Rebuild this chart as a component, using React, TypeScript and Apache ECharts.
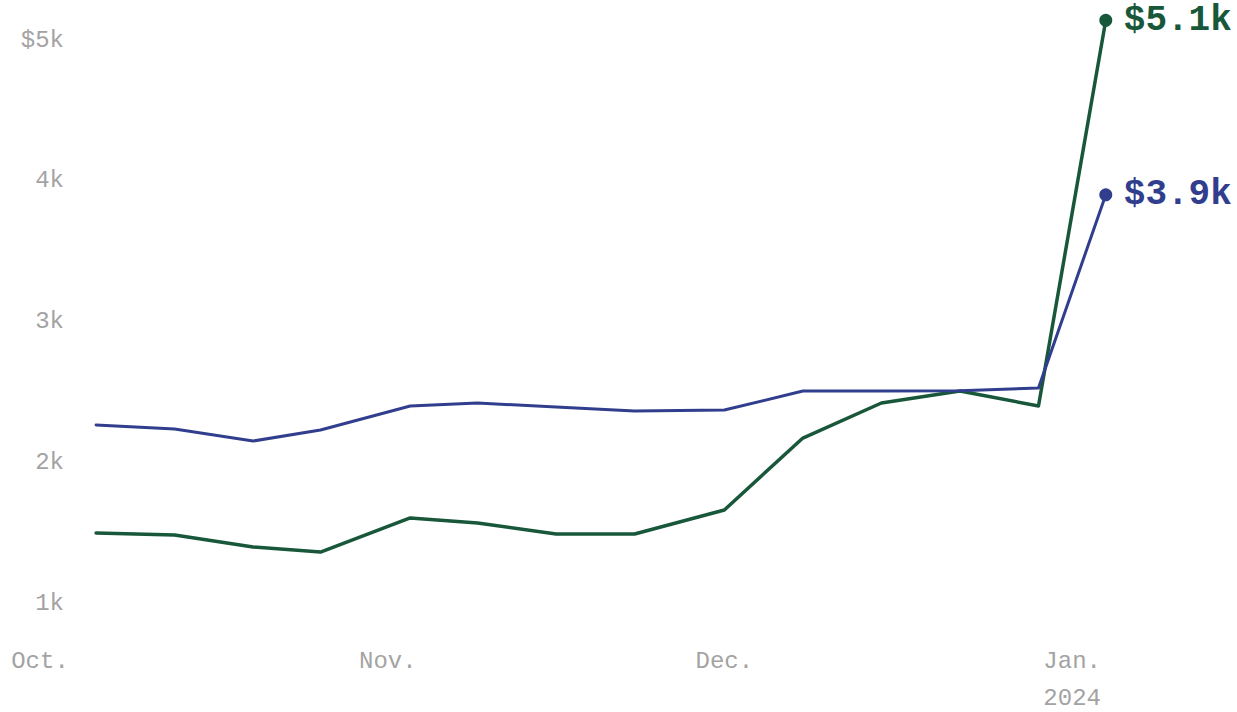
import React, { useEffect, useRef } from "react";
import * as echarts from "echarts";

// Weekly balance readings
const dates = [
  "2023-10-06", "2023-10-13", "2023-10-20", "2023-10-26", "2023-11-03",
  "2023-11-09", "2023-11-16", "2023-11-23", "2023-12-01", "2023-12-08",
  "2023-12-15", "2023-12-22", "2023-12-29", "2024-01-04",
];
const greenValues = [1497, 1483, 1398, 1362, 1604, 1568, 1490, 1490, 1661, 2172, 2421, 2506, 2400, 5140];
const blueValues = [2265, 2236, 2151, 2229, 2400, 2421, 2392, 2364, 2371, 2506, 2506, 2508, 2528, 3900];

// Axis ticks
const monthTicks = ["2023-10-01", "2023-11-01", "2023-12-01", "2024-01-01"];
const monthLabels = ["Oct.", "Nov.", "Dec.", "Jan.\n2024"];
const yTicks = [1000, 2000, 3000, 4000, 5000];
const yTickLabels = ["1k", "2k", "3k", "4k", "$5k"];

const GREEN = "#18573a";
const BLUE = "#313e8e";
const GREY = "#a3a3a3";
const MONO = "'Liberation Mono', 'DejaVu Sans Mono', monospace";

const toTs = (d: string) => {
  const [y, m, day] = d.split("-").map(Number);
  return new Date(y, m - 1, day).getTime();
};

export default function App() {
  const ref = useRef<HTMLDivElement>(null);

  useEffect(() => {
    if (!ref.current) return;
    const chart = echarts.init(ref.current, undefined, { renderer: "svg" });
    const tickTs = monthTicks.map(toTs);
    const lastIdx = dates.length - 1;

    const makeSeries = (name: string, values: number[], color: string, width: number) => ({
      name,
      type: "line",
      data: dates.map((d, i) => [toTs(d), values[i]]),
      clip: false,
      symbol: "circle",
      symbolSize: (_v: any, p: any) => (p.dataIndex === lastIdx ? 13 : 0),
      showSymbol: true,
      itemStyle: { color },
      lineStyle: { color, width, join: "round", cap: "round" },
      emphasis: { disabled: true },
      endLabel: {
        show: true,
        distance: 18,
        formatter: (p: any) => `$${(p.value[1] / 1000).toFixed(1)}k`,
        color,
        fontFamily: MONO,
        fontSize: 36,
        fontWeight: "bold",
      },
    });

    chart.setOption({
      animation: false,
      backgroundColor: "#ffffff",
      grid: { left: 40, right: 120, top: 40, bottom: 109, outerBoundsMode: "none", containLabel: false },
      xAxis: {
        type: "value",
        min: toTs("2023-10-01"),
        max: toTs("2024-01-05"),
        axisLine: { show: false },
        axisTick: { show: false },
        splitLine: { show: false },
        axisLabel: {
          customValues: tickTs,
          formatter: (v: number) => {
            const i = tickTs.indexOf(v);
            return i >= 0 ? monthLabels[i] : "";
          },
          color: GREY,
          fontFamily: MONO,
          fontSize: 24,
          lineHeight: 37,
          margin: 40,
          hideOverlap: false,
        },
      },
      yAxis: {
        type: "value",
        min: 1000,
        max: 5000,
        interval: 1000,
        axisLine: { show: false },
        axisTick: { show: false },
        splitLine: { show: false },
        axisLabel: {
          formatter: (v: number) => {
            const i = yTicks.indexOf(v);
            return i >= 0 ? yTickLabels[i] : "";
          },
          color: GREY,
          fontFamily: MONO,
          fontSize: 24,
          margin: -24,
          align: "right",
        },
      },
      series: [
        makeSeries("green", greenValues, GREEN, 3.5),
        makeSeries("blue", blueValues, BLUE, 3),
      ],
    });

    return () => chart.dispose();
  }, []);

  return (
    <div
      ref={ref}
      style={{ position: "fixed", left: 0, top: 0, width: 1237, height: 712, background: "#fff" }}
    />
  );
}
